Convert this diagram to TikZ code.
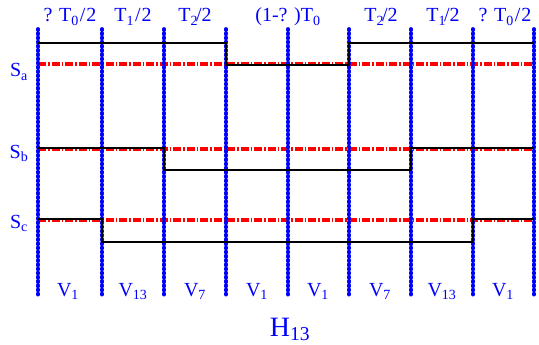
\documentclass[tikz,border=0pt]{standalone}
\usepackage{fontspec}
\setmainfont{Liberation Serif}
\begin{document}
\begin{tikzpicture}[x=1pt,y=-1pt,
  lbl/.style={text=blue,font=\fontsize{20}{22}\selectfont,inner sep=0pt,anchor=base},
  vline/.style={blue,line width=3.8pt,line cap=round,dash pattern=on 1pt off 3.2pt},
  redline/.style={red,line width=3.2pt,dash pattern=on 8pt off 2pt on 1.5pt off 2pt},
  wave/.style={black,line width=1.6pt}]
\useasboundingbox (0,0) rectangle (539,345);
% red reference lines
\foreach \yy/\n in {64/a,149/b,220/c}{
  \coordinate (r\n1) at (38,\yy);
  \coordinate (r\n2) at (534,\yy);
  \draw[redline] (r\n1) -- (r\n2);
}
% vertical blue lines
\foreach \xx [count=\i] in {38,102,164,226,288,349,411,473,534}{
  \coordinate (t\i) at (\xx,29);
  \coordinate (b\i) at (\xx,296);
  \draw[vline] (t\i) -- (b\i);
}
% waveforms
\draw[wave] (38,43) -- (226,43) -- (226,65) -- (349,65) -- (349,43) -- (534,43);
\draw[wave] (38,148) -- (164,148) -- (164,170) -- (411,170) -- (411,148) -- (534,148);
\draw[wave] (38,219) -- (102,219) -- (102,242) -- (473,242) -- (473,219) -- (534,219);
% side labels
\node[lbl] (sa) at (19,77) {S\textsubscript{a}};
\node[lbl] (sb) at (19,158) {S\textsubscript{b}};
\node[lbl] (sc) at (19,228) {S\textsubscript{c}};
% top labels
\node[lbl] (h1) at (70,22) {?\,\,T\textsubscript{0}\kern1pt/\kern1pt2};
\node[lbl] (h2) at (133,22) {T\textsubscript{1}\kern1pt/\kern1pt2};
\node[lbl] (h3) at (195,22) {T\textsubscript{2}\kern-2pt/2};
\node[lbl] (h4) at (288,22) {(1-?\,\,)T\textsubscript{0}};
\node[lbl] (h5) at (381,22) {T\textsubscript{2}\kern-2pt/2};
\node[lbl] (h6) at (443,22) {T\textsubscript{1}\kern-2pt/2};
\node[lbl] (h7) at (505,22) {?\,\,T\textsubscript{0}\kern1pt/\kern1pt2};
% bottom labels
\foreach \xx/\t [count=\i] in {68/1,133/13,195/7,257/1,318/1,380/7,442/13,503/1}{
  \node[lbl] (v\i) at (\xx,296) {V\textsubscript{\t}};
}
\node[lbl,font=\fontsize{28}{30}\selectfont] (h13) at (290,336) {H\textsubscript{13}};
\end{tikzpicture}
\end{document}
